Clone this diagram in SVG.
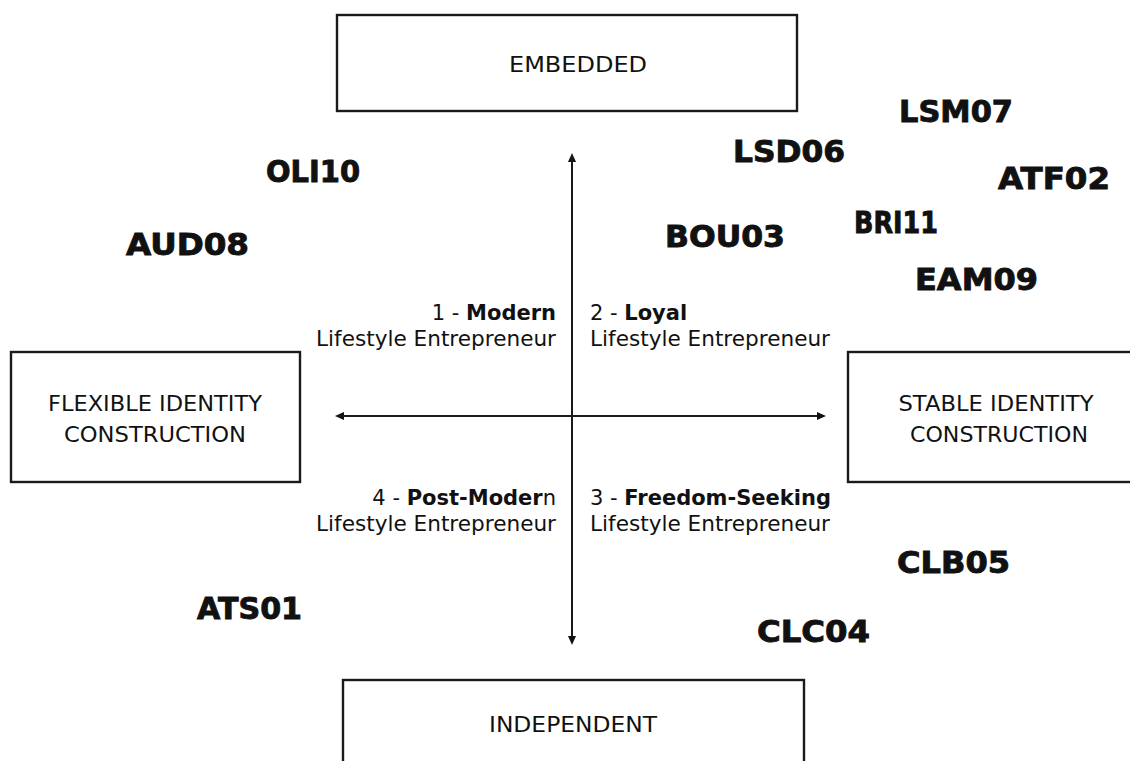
<svg xmlns="http://www.w3.org/2000/svg" width="1130" height="761" viewBox="0 0 1130 761">
<defs>
<marker id="arr" markerUnits="userSpaceOnUse" markerWidth="10" markerHeight="9" refX="6" refY="4" orient="auto">
<path d="M0,0 L9,4 L0,8 z" fill="#111"/>
</marker>
<style>
.box{fill:#fff;stroke:#1a1a1a;stroke-width:2.4}
.bl{font-family:"DejaVu Sans",sans-serif;font-size:21px;fill:#111;text-anchor:middle}
.q{font-family:"DejaVu Sans",sans-serif;font-size:21px;fill:#111}
.qb{font-weight:700}
.code{font-family:"DejaVu Sans",sans-serif;font-weight:700;font-size:30px;fill:#111;stroke:#111;stroke-width:0.9}
.axis{stroke:#1a1a1a;stroke-width:2;fill:none}
</style>
</defs>
<rect width="1130" height="761" fill="#fff"/>
<g id="connectors">
<line class="axis" x1="572" y1="642" x2="572" y2="156" marker-end="url(#arr)"/>
<line class="axis" x1="572" y1="156" x2="572" y2="642" marker-end="url(#arr)"/>
<line class="axis" x1="823" y1="416" x2="338" y2="416" marker-end="url(#arr)"/>
<line class="axis" x1="338" y1="416" x2="823" y2="416" marker-end="url(#arr)"/>
</g>
<g id="embedded">
<rect class="box" x="337" y="15" width="460" height="96"/>
<text class="bl" x="578" y="72" textLength="138" lengthAdjust="spacingAndGlyphs">EMBEDDED</text>
</g>
<g id="flexible">
<rect class="box" x="11" y="352" width="289" height="130"/>
<text class="bl" x="155" y="411" textLength="214" lengthAdjust="spacingAndGlyphs">FLEXIBLE IDENTITY</text>
<text class="bl" x="155" y="442" textLength="182" lengthAdjust="spacingAndGlyphs">CONSTRUCTION</text>
</g>
<g id="stable">
<rect class="box" x="848" y="352" width="294" height="130"/>
<text class="bl" x="996" y="411" textLength="195" lengthAdjust="spacingAndGlyphs">STABLE IDENTITY</text>
<text class="bl" x="999" y="442" textLength="178" lengthAdjust="spacingAndGlyphs">CONSTRUCTION</text>
</g>
<g id="independent">
<rect class="box" x="343" y="680" width="461" height="110"/>
<text class="bl" x="573" y="732" textLength="168" lengthAdjust="spacingAndGlyphs">INDEPENDENT</text>
</g>
<g id="q1">
<text class="q" x="556" y="320" text-anchor="end">1 - <tspan class="qb">Modern</tspan></text>
<text class="q" x="556" y="346" text-anchor="end" textLength="240" lengthAdjust="spacingAndGlyphs">Lifestyle Entrepreneur</text>
</g>
<g id="q2">
<text class="q" x="590" y="320">2 - <tspan class="qb">Loyal</tspan></text>
<text class="q" x="590" y="346" textLength="240" lengthAdjust="spacingAndGlyphs">Lifestyle Entrepreneur</text>
</g>
<g id="q4">
<text class="q" x="556" y="505" text-anchor="end">4 - <tspan class="qb">Post-Moder</tspan>n</text>
<text class="q" x="556" y="531" text-anchor="end" textLength="240" lengthAdjust="spacingAndGlyphs">Lifestyle Entrepreneur</text>
</g>
<g id="q3">
<text class="q" x="590" y="505">3 - <tspan class="qb">Freedom-Seeking</tspan></text>
<text class="q" x="590" y="531" textLength="240" lengthAdjust="spacingAndGlyphs">Lifestyle Entrepreneur</text>
</g>
<g id="codes">
<text class="code" x="899" y="122" textLength="114" lengthAdjust="spacingAndGlyphs">LSM07</text>
<text class="code" x="733" y="162" textLength="112" lengthAdjust="spacingAndGlyphs">LSD06</text>
<text class="code" x="266" y="182" textLength="94" lengthAdjust="spacingAndGlyphs">OLI10</text>
<text class="code" x="998" y="189" textLength="112" lengthAdjust="spacingAndGlyphs">ATF02</text>
<text class="code" x="854" y="233" textLength="84" lengthAdjust="spacingAndGlyphs">BRI11</text>
<text class="code" x="665" y="247" textLength="120" lengthAdjust="spacingAndGlyphs">BOU03</text>
<text class="code" x="126" y="255" textLength="123" lengthAdjust="spacingAndGlyphs">AUD08</text>
<text class="code" x="915" y="290" textLength="123" lengthAdjust="spacingAndGlyphs">EAM09</text>
<text class="code" x="897" y="573" textLength="113" lengthAdjust="spacingAndGlyphs">CLB05</text>
<text class="code" x="197" y="619" textLength="105" lengthAdjust="spacingAndGlyphs">ATS01</text>
<text class="code" x="757" y="642" textLength="113" lengthAdjust="spacingAndGlyphs">CLC04</text>
</g>
</svg>
